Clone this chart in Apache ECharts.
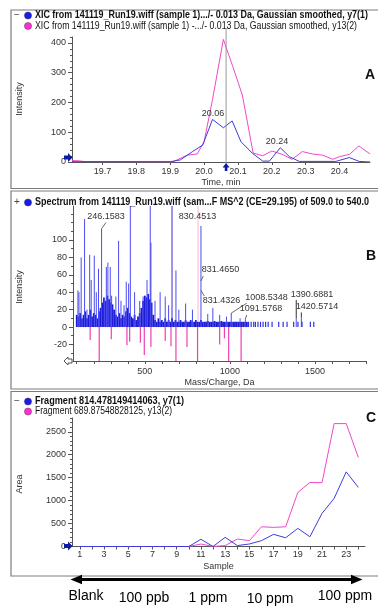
<!DOCTYPE html>
<html>
<head>
<meta charset="utf-8">
<script src="https://cdn.jsdelivr.net/npm/echarts@6.0.0/dist/echarts.min.js"></script>
<style>
  html, body { margin: 0; padding: 0; background: #fff; }
  #chart { width: 378px; height: 606px; }
</style>
</head>
<body>
<div id="chart"></div>
<script>
// ---------- panel A : XIC traces ----------
var timeLabels = [19.7, 19.8, 19.9, 20.0, 20.1, 20.2, 20.3, 20.4];
var intensityLabelsA = [0, 100, 200, 300, 400];
var intensityMinorA = [0, 20, 40, 60, 80, 100, 120, 140, 160, 180, 200, 220, 240, 260, 280, 300, 320, 340, 360, 380, 400, 420];
var xicY7 = [[19.61, 1], [19.90, 1], [19.93, 7], [19.966, 35], [19.996, 57], [20.025, 143], [20.057, 115],
  [20.083, 138], [20.109, 68], [20.143, 29], [20.173, 3], [20.193, 3], [20.225, 48], [20.252, 18],
  [20.281, 2], [20.389, 2], [20.429, 15], [20.458, 2], [20.49, 0]];
var xicY13 = [[19.61, 5], [19.63, 4], [19.65, 1], [19.907, 0], [19.95, 23], [19.98, 27], [20.0, 68],
  [20.025, 210], [20.057, 412], [20.085, 320], [20.113, 225], [20.145, 30], [20.173, 21], [20.2, 37],
  [20.23, 26], [20.26, 9], [20.29, 35], [20.32, 27], [20.35, 23], [20.38, 9], [20.40, 18], [20.43, 26],
  [20.457, 54], [20.49, 27]];

// ---------- panel B : MS/MS spectrum (mirror) ----------
var mzLabels = [500, 1000, 1500];
var mzTicks = [100, 200, 300, 400, 500, 600, 700, 800, 900, 1000, 1100, 1200, 1300, 1400, 1500, 1600, 1700, 1800];
var intensityLabelsB = [-20, 0, 20, 40, 60, 80, 100];
var intensityMinorB = [-30, -20, -10, 0, 10, 20, 30, 40, 50, 60, 70, 80, 90, 100, 110, 120, 130];
var specBulk = [[100, 14], [110, 12], [120, 16], [130, 10], [140, 14], [150, 18], [160, 10], [170, 14],
  [180, 20], [190, 12], [200, 16], [210, 14], [220, 10], [230, 18], [240, 22], [250, 28], [260, 34],
  [270, 30], [280, 36], [290, 32], [300, 28], [310, 26], [320, 20], [330, 14], [340, 12], [350, 16],
  [360, 10], [370, 14], [380, 12], [390, 18], [400, 22], [410, 16], [420, 12], [430, 10], [440, 14],
  [450, 8], [460, 12], [470, 16], [480, 22], [490, 30], [500, 36], [510, 34], [520, 38], [530, 32],
  [540, 28], [550, 14], [560, 8], [570, 6], [580, 10], [590, 6], [600, 8], [610, 6], [620, 10],
  [630, 6], [640, 8], [650, 6], [660, 10], [670, 6], [680, 8], [690, 6], [700, 6], [710, 8], [720, 6],
  [730, 6], [740, 8], [750, 6], [760, 6], [770, 8], [780, 6], [790, 6], [800, 8], [810, 6], [820, 6],
  [830, 8], [840, 6], [850, 6], [860, 6], [870, 7], [880, 6], [890, 6], [900, 6], [910, 7], [920, 6],
  [930, 6], [940, 6], [950, 7], [960, 6], [970, 6], [980, 6], [990, 6], [1000, 6], [1010, 6],
  [1020, 6], [1030, 6], [1040, 6], [1050, 6], [1060, 6], [1070, 6], [1080, 6], [1090, 6], [1100, 6]];
var specPeaks = [[107, 42], [113, 40], [126, 80], [146, 124], [160, 20], [176, 83], [185, 54], [203, 82],
  [215, 40], [228, 67], [246, 113], [264, 33], [274, 69], [283, 74], [297, 69], [305, 36], [330, 35],
  [346, 99], [360, 30], [378, 25], [391, 52], [405, 50], [415, 150], [440, 40], [470, 30], [490, 35],
  [513, 54], [532, 150], [536, 97], [560, 30], [590, 40], [620, 35], [640, 25], [660, 150], [683, 65],
  [700, 20], [740, 27], [780, 20], [830, 116], [870, 15], [900, 22], [940, 14], [980, 12], [1008, 16],
  [1060, 10], [1091, 9], [1390, 10], [1420, 11]];
var specTail = [[1110, 6], [1125, 6], [1140, 6], [1150, 6], [1165, 6], [1180, 6], [1195, 6], [1210, 6],
  [1225, 6], [1248, 6], [1287, 6], [1313, 6], [1336, 6], [1375, 6], [1400, 6], [1424, 6], [1473, 6],
  [1493, 6]];
var specMirror = [[179, -15], [232, -40], [303, -14], [395, -21], [411, -17], [474, -18], [497, -32],
  [536, -23], [620, -16], [654, -22], [683, -40], [748, -23], [810, -40], [940, -20], [968, -13],
  [993, -40], [1066, -40]];
var specMarks = [[660, 150], [813, 150]];

// ---------- panel C : fragment areas ----------
var sampleLabels = [1, 3, 5, 7, 9, 11, 13, 15, 17, 19, 21, 23];
var sampleTicks = [1, 2, 3, 4, 5, 6, 7, 8, 9, 10, 11, 12, 13, 14, 15, 16, 17, 18, 19, 20, 21, 22, 23, 24];
var areaLabels = [0, 500, 1000, 1500, 2000, 2500];
var areaMinor = [0, 100, 200, 300, 400, 500, 600, 700, 800, 900, 1000, 1100, 1200, 1300, 1400, 1500,
  1600, 1700, 1800, 1900, 2000, 2100, 2200, 2300, 2400, 2500, 2600, 2700, 2800];
var samples = [1, 2, 3, 4, 5, 6, 7, 8, 9, 10, 11, 12, 13, 14, 15, 16, 17, 18, 19, 20, 21, 22, 23, 24];
var areaY7 = [0, 0, 0, 0, 0, 0, 0, 0, 0, 0, 157, 0, 200, 20, 55, 127, 265, 190, 395, 213, 722, 1048, 1626, 1287];
var areaY13 = [0, 0, 0, 0, 0, 0, 0, 0, 0, 0, 54, 0, 20, 163, 127, 430, 417, 430, 1178, 1395, 1390, 2678, 2678, 1940];

var concLabels = ['Blank', '100 ppb', '1 ppm', '10 ppm', '100 ppm'];

var BLUE = '#3c3cdc', PINK = '#f048c8', AXIS = '#555', TXT = '#333';
var FONT = '"Liberation Sans", Arial, sans-serif';

var chart = echarts.init(document.getElementById('chart'));

function plain(v) { return String(v); }
function oneDec(v) { return v.toFixed(1); }

function xAx(grid, min, max, labels, ticks, name, gap, margin, fmt) {
  return {
    type: 'value', gridIndex: grid, min: min, max: max,
    name: name, nameLocation: 'middle', nameGap: gap,
    nameTextStyle: { color: TXT, fontSize: 9, fontFamily: FONT },
    axisLine: { onZero: false, lineStyle: { color: AXIS } },
    axisTick: { customValues: ticks, length: 3, lineStyle: { color: AXIS } },
    axisLabel: { customValues: labels, formatter: fmt || plain, color: TXT, fontSize: 9, fontFamily: FONT, margin: margin },
    splitLine: { show: false }
  };
}
function yAx(grid, min, max, labels) {
  return {
    type: 'value', gridIndex: grid, min: min, max: max, position: 'left',
    axisLine: { show: true, onZero: false, lineStyle: { color: AXIS } },
    axisTick: { show: true, customValues: labels, length: 4, lineStyle: { color: AXIS } },
    axisLabel: { customValues: labels, formatter: plain, color: TXT, fontSize: 9, fontFamily: FONT, margin: 6 },
    splitLine: { show: false }
  };
}
function yMinor(grid, min, max, ticks) {
  return {
    type: 'value', gridIndex: grid, min: min, max: max, position: 'left', offset: 0,
    axisLine: { show: false, onZero: false },
    axisTick: { show: true, customValues: ticks, length: 2, lineStyle: { color: AXIS } },
    axisLabel: { show: false }, splitLine: { show: false }
  };
}
function stick(color, width) {
  return function (params, api) {
    var p0 = api.coord([api.value(0), 0]);
    var p1 = api.coord([api.value(0), api.value(1)]);
    return { type: 'line', shape: { x1: p0[0], y1: p0[1], x2: p1[0], y2: p1[1] },
      style: { stroke: color, lineWidth: width } };
  };
}
function spec(data, color, width, z) {
  return { type: 'custom', xAxisIndex: 1, yAxisIndex: 1, data: data, clip: true, z: z,
    encode: { x: 0, y: 1 }, renderItem: stick(color, width), silent: true };
}

chart.setOption({
  animation: false,
  backgroundColor: '#fff',
  grid: [
    { left: 72, top: 37, width: 298, height: 125 },
    { left: 73, top: 206, width: 293, height: 155 },
    { left: 72, top: 418, width: 293, height: 128.5 }
  ],
  xAxis: [
    xAx(0, 19.61, 20.49, timeLabels, timeLabels, 'Time, min', 16, 5, oneDec),
    xAx(1, 78, 1800, mzLabels, mzTicks, 'Mass/Charge, Da', 17, 6),
    xAx(2, 0.35, 24.55, sampleLabels, sampleTicks, 'Sample', 16, 4)
  ],
  yAxis: [
    yAx(0, 0, 420, intensityLabelsA),
    yAx(1, -39, 139, intensityLabelsB),
    yAx(2, 0, 2800, areaLabels),
    yMinor(0, 0, 420, intensityMinorA),
    yMinor(1, -39, 139, intensityMinorB),
    yMinor(2, 0, 2800, areaMinor)
  ],
  series: [
    { type: 'line', xAxisIndex: 0, yAxisIndex: 0, data: xicY13, symbol: 'none',
      lineStyle: { color: PINK, width: 1 }, z: 2 },
    { type: 'line', xAxisIndex: 0, yAxisIndex: 0, data: xicY7, symbol: 'none',
      lineStyle: { color: BLUE, width: 1 }, z: 3 },
    spec(specMarks, '#f6b8cf', 1, 1),
    spec(specBulk, '#1c1cd6', 1.8, 3),
    spec(specPeaks, '#4b4bf0', 1, 4),
    spec(specTail, '#3535e0', 1.2, 4),
    spec(specMirror, '#f040b0', 1.2, 4),
    { type: 'line', xAxisIndex: 2, yAxisIndex: 2, symbol: 'none',
      data: samples.map(function (s, i) { return [s, areaY13[i]]; }),
      lineStyle: { color: PINK, width: 1 }, z: 2 },
    { type: 'line', xAxisIndex: 2, yAxisIndex: 2, symbol: 'none',
      data: samples.map(function (s, i) { return [s, areaY7[i]]; }),
      lineStyle: { color: BLUE, width: 1 }, z: 3 }
  ]
});

// ---------- decorations ----------
var mctx = document.createElement('canvas').getContext('2d');
function fit(text, weight, size, target) {
  mctx.font = weight + ' ' + size + 'px "Liberation Sans"';
  return target / mctx.measureText(text).width;
}
function title(x, y, text, bold, target) {
  var w = bold ? 'bold' : 'normal';
  return { type: 'text', x: x, y: y, scaleX: fit(text, w, 10, target), z: 10,
    style: { text: text, fontSize: 10, fontWeight: w, fontFamily: '"Liberation Sans"', fill: '#111',
      verticalAlign: 'middle' } };
}
function dot(x, y, color) {
  return { type: 'circle', shape: { cx: x, cy: y, r: 3.6 }, z: 10,
    style: { fill: color, stroke: '#333', lineWidth: 0.4 } };
}
function txt(x, y, text, size, opts) {
  opts = opts || {};
  return { type: 'text', x: x, y: y, z: 10, rotation: opts.rot || 0,
    style: { text: text, fontSize: size, fontWeight: opts.weight || 'normal', fontFamily: FONT,
      fill: opts.fill || TXT, align: 'center', verticalAlign: 'middle' } };
}
function seg(x1, y1, x2, y2, color, w) {
  return { type: 'line', z: 10, shape: { x1: x1, y1: y1, x2: x2, y2: y2 },
    style: { stroke: color || '#444', lineWidth: w || 0.8 } };
}
function poly(points, fill, stroke) {
  return { type: 'polygon', z: 11, shape: { points: points },
    style: { fill: fill, stroke: stroke || null, lineWidth: 1 } };
}
function rightArrow(cx, cy) {
  return poly([[cx - 4, cy - 2], [cx, cy - 2], [cx, cy - 4.5], [cx + 4.5, cy], [cx, cy + 4.5],
    [cx, cy + 2], [cx - 4, cy + 2]], '#0a1aa8');
}
function bx(i, v) { return chart.convertToPixel({ xAxisIndex: i }, v); }
function by(i, v) { return chart.convertToPixel({ yAxisIndex: i }, v); }

var cursorX = bx(0, 20.065);
var g = [
  { type: 'rect', shape: { x: 11, y: 10, width: 380, height: 178.5 }, z: 0,
    style: { fill: 'none', stroke: '#7c7c7c', lineWidth: 1.2 } },
  { type: 'rect', shape: { x: 11, y: 191, width: 380, height: 198 }, z: 0,
    style: { fill: 'none', stroke: '#7c7c7c', lineWidth: 1.2 } },
  { type: 'rect', shape: { x: 11, y: 391.5, width: 380, height: 184.5 }, z: 0,
    style: { fill: 'none', stroke: '#7c7c7c', lineWidth: 1.2 } },

  txt(17, 15.5, '\u2212', 10, { fill: '#444' }),
  dot(28, 15.5, '#1a1aee'), dot(28, 26, '#ff2fcf'),
  title(35, 15.5, 'XIC from 141119_Run19.wiff (sample 1).../- 0.013 Da, Gaussian smoothed, y7(1)', true, 333),
  title(35, 26, 'XIC from 141119_Run19.wiff (sample 1) -.../- 0.013 Da, Gaussian smoothed, y13(2)', false, 322),

  txt(17, 202.5, '+', 10, { fill: '#444' }),
  dot(28, 202.5, '#1a1aee'),
  title(35, 202.5, 'Spectrum from 141119_Run19.wiff (sam...F MS^2 (CE=29.195) of 509.0 to 540.0', true, 334),

  txt(17, 401.5, '\u2212', 10, { fill: '#444' }),
  dot(28, 401.5, '#1a1aee'), dot(28, 411.5, '#ff2fcf'),
  title(35, 401.5, 'Fragment 814.478149414063, y7(1)', true, 149),
  title(35, 411.5, 'Fragment 689.87548828125, y13(2)', false, 137),

  txt(370, 75, 'A', 14, { weight: 'bold', fill: '#111' }),
  txt(371, 256, 'B', 14, { weight: 'bold', fill: '#111' }),
  txt(371, 418, 'C', 14, { weight: 'bold', fill: '#111' }),

  txt(20, 99, 'Intensity', 9, { rot: Math.PI / 2 }),
  txt(20, 287, 'Intensity', 9, { rot: Math.PI / 2 }),
  txt(20, 484, 'Area', 9, { rot: Math.PI / 2 }),

  // cursor in panel A
  seg(cursorX, 28, cursorX, 166, '#9a9a9a', 1),
  poly([[cursorX, 163], [cursorX + 3.5, 167.5], [cursorX + 1.3, 167.5], [cursorX + 1.3, 171],
    [cursorX - 1.3, 171], [cursorX - 1.3, 167.5], [cursorX - 3.5, 167.5]], '#0a1aa8'),
  rightArrow(68, 157.5),
  rightArrow(68, 546),
  poly([[64, 361], [68, 357], [68, 359], [72, 359], [72, 363], [68, 363], [68, 365]], '#fff', '#555'),

  txt(213, 114, '20.06', 9),
  txt(277, 141.5, '20.24', 9),

  // spectrum annotations
  txt(106, 217, '246.1583', 9),
  txt(197.5, 217, '830.4513', 9),
  txt(220.5, 270, '831.4650', 9),
  txt(221.5, 301, '831.4326', 9),
  txt(266.5, 297.3, '1008.5348', 9),
  txt(261, 309, '1091.5768', 9),
  txt(312, 295, '1390.6881', 9),
  txt(317, 306.7, '1420.5714', 9),
  seg(106, 222.5, bx(1, 246), by(1, 113)),
  seg(203.3, 276, bx(1, 830), by(1, 53)),
  seg(bx(1, 830), by(1, 42), 204.3, 296),
  seg(246.7, 303.3, bx(1, 1008), by(1, 16)),
  seg(246.7, 315, bx(1, 1091), by(1, 9)),
  seg(bx(1, 1390), 300, bx(1, 1390), by(1, 10), '#333', 1),
  seg(bx(1, 1420), 312.5, bx(1, 1420), by(1, 11), '#333', 1),

  // concentration arrow
  seg(78, 579.5, 354, 579.5, '#000', 3),
  poly([[70.5, 579.5], [82, 574.8], [82, 584.2]], '#000'),
  poly([[362.5, 579.5], [351, 574.8], [351, 584.2]], '#000')
];
var concX = [86, 144, 208, 270, 345];
var concY = [596, 598, 598, 599, 596.5];
concLabels.forEach(function (t, i) { g.push(txt(concX[i], concY[i], t, 14, { fill: '#000' })); });

chart.setOption({ graphic: g });
</script>
</body>
</html>
